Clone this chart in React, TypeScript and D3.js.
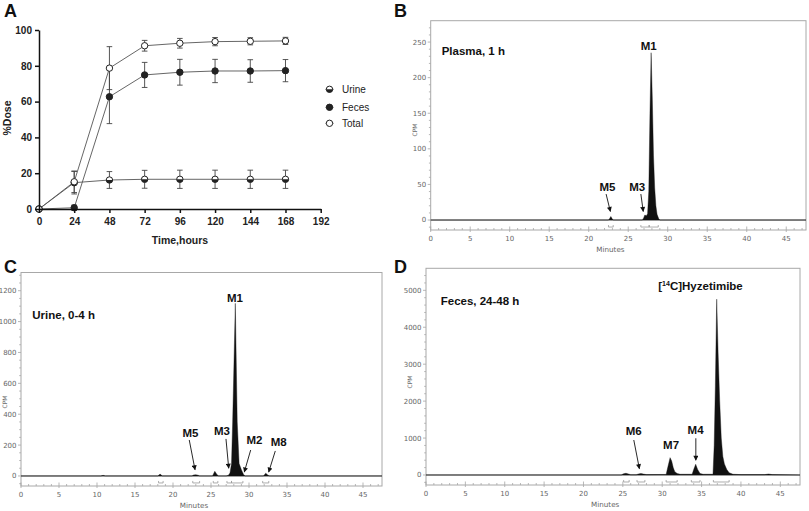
import React, { useEffect, useRef } from 'react';
import * as d3 from 'd3';

// ---------- panel A: cumulative excretion (% dose) ----------
const hours = [0, 24, 48, 72, 96, 120, 144, 168];
const urine = [0, 14.7, 16.2, 16.6, 16.6, 16.6, 16.6, 16.6];
const urineErr = [0, 6.3, 4.7, 5, 5.1, 5.1, 5.1, 5.1];
const feces = [0, 0.7, 62.7, 74.9, 76.4, 77.1, 77.1, 77.3];
const fecesErr = [0, 1.5, 15, 7, 7.2, 6.5, 6.3, 6.2];
const total = [0, 15.2, 78.7, 91.2, 92.6, 93.5, 93.7, 93.9];
const totalErr = [0, 6, 12, 3, 2.7, 2.3, 2, 2];
const hourTicks = [0, 24, 48, 72, 96, 120, 144, 168, 192];
const doseTicks = [0, 20, 40, 60, 80, 100];
const legendNames = ['Urine', 'Feces', 'Total'];

// ---------- panels B-D: radiochromatograms [minutes, CPM] ----------
const minuteTicks = [0, 5, 10, 15, 20, 25, 30, 35, 40, 45];

const plasmaTrace: [number, number][] = [
  [0, 0], [22.5, 0], [22.65, 2], [22.8, 5], [22.95, 2], [23.1, 0],
  [26.8, 0], [26.95, 3], [27.1, 7], [27.3, 6], [27.45, 9], [27.6, 40],
  [27.75, 150], [27.9, 235], [28.05, 170], [28.2, 90], [28.35, 45],
  [28.5, 20], [28.65, 8], [28.85, 2], [29.0, 0], [47.5, 0],
];
const plasmaTicks = [0, 50, 100, 150, 200, 250];
const plasmaBrackets: [number, number][] = [[22.5, 23.1], [26.6, 27.65], [27.65, 28.8]];

const urineTrace: [number, number][] = [
  [0, 0], [10.5, 0], [10.8, 4], [11.1, 0],
  [18.0, 0], [18.3, 12], [18.6, 0],
  [22.5, 0], [22.7, 6], [23.0, 8], [23.3, 5], [23.5, 0],
  [25.2, 0], [25.5, 30], [25.8, 8], [26.0, 0],
  [27.0, 0], [27.3, 5], [27.5, 20], [27.7, 80], [27.85, 350], [28.2, 1118],
  [28.45, 350], [28.7, 80], [29.0, 40], [29.3, 8], [29.5, 0],
  [31.9, 0], [32.2, 18], [32.5, 5], [32.7, 0], [47.5, 0],
];
const urineTicks = [0, 200, 400, 600, 800, 1000, 1200];
const urineBrackets: [number, number][] = [
  [18.1, 18.7], [22.6, 23.5], [25.3, 25.9], [27.1, 27.7], [27.7, 29.2], [31.8, 32.6],
];

const fecesTrace: [number, number][] = [
  [0, 0], [24.8, 0], [25.1, 35], [25.4, 45], [25.7, 30], [26.0, 5],
  [26.7, 5], [27.0, 30], [27.3, 40], [27.6, 25], [28.0, 10],
  [30.5, 15], [30.7, 200], [31.0, 470], [31.2, 380], [31.4, 200], [31.6, 90],
  [31.9, 40], [32.3, 20], [33.8, 20], [34.0, 150], [34.25, 290], [34.5, 150],
  [34.8, 40], [35.2, 20], [36.45, 20], [36.6, 800], [36.75, 2400], [36.92, 4760],
  [37.1, 3300], [37.3, 2000], [37.5, 1000], [37.7, 500], [37.9, 300],
  [38.2, 150], [38.5, 60], [39.0, 20], [40, 10], [43.0, 10], [43.5, 25],
  [44, 10], [47.5, 0],
];
const fecesTicks = [0, 1000, 2000, 3000, 4000, 5000];
const fecesBrackets: [number, number][] = [
  [25.1, 25.8], [26.8, 27.8], [30.5, 31.9], [33.7, 34.8], [36.5, 38.5],
];

type Note = {
  text: string;
  at: [number, number];
  anchor?: string;
  from?: [number, number];
  to?: [number, number];
};

const plasmaNotes: Note[] = [
  { text: 'Plasma, 1 h', at: [1.39, 232], anchor: 'start' },
  { text: 'M1', at: [27.6, 239] },
  { text: 'M5', at: [22.36, 41], from: [22.2, 36.5], to: [22.74, 12] },
  { text: 'M3', at: [26.14, 41], from: [26.6, 36.5], to: [26.9, 12] },
];
const urineNotes: Note[] = [
  { text: 'Urine, 0-4 h', at: [1.49, 1015], anchor: 'start' },
  { text: 'M1', at: [28.16, 1129] },
  { text: 'M5', at: [22.3, 250], from: [22.14, 233], to: [22.9, 40] },
  { text: 'M3', at: [26.45, 265], from: [26.97, 240], to: [27.33, 50] },
  { text: 'M2', at: [30.72, 205], from: [30.22, 168], to: [29.38, 25] },
  { text: 'M8', at: [33.9, 196], from: [33.46, 162], to: [32.59, 25] },
];
const fecesNotes: Note[] = [
  { text: 'Feces, 24-48 h', at: [1.87, 4602], anchor: 'start' },
  { text: 'M6', at: [26.39, 1083], from: [26.39, 947], to: [27.1, 170] },
  { text: 'M7', at: [31.13, 704] },
  { text: 'M4', at: [34.24, 1110], from: [34.27, 994], to: [34.27, 400] },
];

const SANS = 'Liberation Sans, Arial, Helvetica, sans-serif';
const SMALL = 'DejaVu Sans, Verdana, sans-serif';

function halfMarker(g: any, cx: number, cy: number, r: number) {
  g.append('circle').attr('cx', cx).attr('cy', cy).attr('r', r)
    .attr('fill', '#fff').attr('stroke', '#222').attr('stroke-width', 1);
  g.append('path')
    .attr('d', `M${cx - r},${cy} A${r},${r} 0 0 0 ${cx + r},${cy} Z`)
    .attr('fill', '#222');
}

function marker(g: any, kind: number, cx: number, cy: number) {
  const r = 3.2;
  if (kind === 0) halfMarker(g, cx, cy, r);
  else g.append('circle').attr('cx', cx).attr('cy', cy).attr('r', r)
    .attr('fill', kind === 1 ? '#222' : '#fff').attr('stroke', '#222').attr('stroke-width', 1);
}

function drawExcretion(svg: any) {
  const x = d3.scaleLinear().domain([0, 192]).range([39, 320.7]);
  const y = d3.scaleLinear().domain([0, 100]).range([209, 30]);
  const g = svg.append('g');

  const series = [
    { v: urine, e: urineErr },
    { v: feces, e: fecesErr },
    { v: total, e: totalErr },
  ];
  const line = d3.line<number>().x((_, i) => x(hours[i])).y((d) => y(d));

  series.forEach((s) => {
    g.append('path').datum(s.v).attr('d', line).attr('fill', 'none')
      .attr('stroke', '#555').attr('stroke-width', 0.9);
  });
  series.forEach((s) => {
    s.v.forEach((v, i) => {
      if (!s.e[i]) return;
      const cx = x(hours[i]);
      const lo = y(v - s.e[i]);
      const hi = y(v + s.e[i]);
      const eb = g.append('g').attr('stroke', '#444').attr('stroke-width', 0.9);
      eb.append('line').attr('x1', cx).attr('x2', cx).attr('y1', lo).attr('y2', hi);
      eb.append('line').attr('x1', cx - 2.8).attr('x2', cx + 2.8).attr('y1', lo).attr('y2', lo);
      eb.append('line').attr('x1', cx - 2.8).attr('x2', cx + 2.8).attr('y1', hi).attr('y2', hi);
    });
  });
  series.forEach((s, k) => {
    s.v.forEach((v, i) => marker(g, k, x(hours[i]), y(v)));
  });

  const xAxis = d3.axisBottom(x).tickValues(hourTicks).tickSize(4).tickSizeOuter(0).tickPadding(5);
  const yAxis = d3.axisLeft(y).tickValues(doseTicks).tickSize(4).tickSizeOuter(0).tickPadding(3);
  const ax = g.append('g').attr('transform', 'translate(0,209)').call(xAxis);
  const ay = g.append('g').attr('transform', 'translate(39,0)').call(yAxis);
  [ax, ay].forEach((a) => {
    a.selectAll('path,line').attr('stroke', '#111').attr('stroke-width', 1.5);
    a.selectAll('text').attr('font-family', SANS).attr('font-weight', 'bold')
      .attr('font-size', 10).attr('fill', '#222');
  });

  g.append('text').attr('x', 180).attr('y', 244).attr('text-anchor', 'middle')
    .attr('font-family', SANS).attr('font-weight', 'bold').attr('font-size', 10.5)
    .attr('fill', '#222').text('Time,hours');
  g.append('text').attr('transform', 'translate(10.5,118) rotate(-90)').attr('text-anchor', 'middle')
    .attr('font-family', SANS).attr('font-weight', 'bold').attr('font-size', 10.5)
    .attr('fill', '#222').text('%Dose');

  // legend
  const rowY = [89.3, 107.3, 123.3];
  legendNames.forEach((name, k) => {
    g.append('line').attr('x1', 325.5).attr('x2', 333.5).attr('y1', rowY[k]).attr('y2', rowY[k])
      .attr('stroke', '#555').attr('stroke-width', 0.9);
    marker(g, k, 329.5, rowY[k]);
    g.append('text').attr('x', 342).attr('y', rowY[k]).attr('dy', '0.36em')
      .attr('font-family', SANS).attr('font-size', 10).attr('fill', '#222').text(name);
  });
}

type Panel = {
  left: number; right: number; top: number; bottom: number;
  yMin: number; yMax: number; yMinor: number; cpmY: number;
};

function drawChrom(svg: any, p: Panel, trace: [number, number][], ticks: number[],
  brackets: [number, number][], notes: Note[]) {
  const x = d3.scaleLinear().domain([0, 47.5]).range([p.left, p.right]);
  const y = d3.scaleLinear().domain([p.yMin, p.yMax]).range([p.bottom, p.top]);
  const g = svg.append('g');
  const base = y(0);

  // minor / major ticks
  d3.range(0, 48, 1).forEach((m) => {
    const major = m % 5 === 0;
    g.append('line').attr('x1', x(m)).attr('x2', x(m))
      .attr('y1', p.bottom + (major ? 2 : 0)).attr('y2', p.bottom - (major ? 3.5 : 2))
      .attr('stroke', '#999').attr('stroke-width', 0.7);
  });
  d3.range(Math.ceil(p.yMin / p.yMinor) * p.yMinor, p.yMax, p.yMinor).forEach((v) => {
    const major = ticks.includes(v);
    g.append('line').attr('x1', p.left - (major ? 3 : 1.8)).attr('x2', p.left)
      .attr('y1', y(v)).attr('y2', y(v)).attr('stroke', '#999').attr('stroke-width', 0.7);
  });

  g.append('rect').attr('x', p.left).attr('y', p.top).attr('width', p.right - p.left)
    .attr('height', p.bottom - p.top).attr('fill', 'none').attr('stroke', '#a8a8a8').attr('stroke-width', 1);
  g.append('line').attr('x1', p.left).attr('x2', p.right).attr('y1', base).attr('y2', base)
    .attr('stroke', '#7a7a7a').attr('stroke-width', 1.1);

  const area = d3.area<[number, number]>().x((d) => x(d[0])).y0(base).y1((d) => y(d[1]));
  g.append('path').datum(trace).attr('d', area).attr('fill', '#111')
    .attr('stroke', '#111').attr('stroke-width', 0.4);

  // integration brackets
  brackets.forEach(([a, b]) => {
    const by = base + 7;
    g.append('path').attr('d', `M${x(a)},${by - 2}V${by}H${x(b)}V${by - 2}`)
      .attr('fill', 'none').attr('stroke', '#999').attr('stroke-width', 0.8);
  });

  minuteTicks.forEach((m) => {
    g.append('text').attr('x', x(m)).attr('y', p.bottom + 11).attr('text-anchor', 'middle')
      .attr('font-family', SMALL).attr('font-size', 7).attr('fill', '#666').text(m);
  });
  ticks.forEach((v) => {
    g.append('text').attr('x', p.left - 4.5).attr('y', y(v)).attr('dy', '0.35em')
      .attr('text-anchor', 'end').attr('font-family', SMALL).attr('font-size', 7)
      .attr('fill', '#666').text(v);
  });
  g.append('text').attr('x', (x(0) + x(45)) / 2 + 2).attr('y', p.bottom + 22).attr('text-anchor', 'middle')
    .attr('font-family', SMALL).attr('font-size', 7.2).attr('fill', '#666').text('Minutes');
  g.append('text').attr('transform', `translate(${p.left - 14},${p.cpmY}) rotate(-90)`)
    .attr('text-anchor', 'middle').attr('font-family', SMALL).attr('font-size', 6)
    .attr('fill', '#666').text('CPM');

  notes.forEach((n) => {
    g.append('text').attr('x', x(n.at[0])).attr('y', y(n.at[1]))
      .attr('text-anchor', n.anchor || 'middle').attr('font-family', SANS)
      .attr('font-weight', 'bold').attr('font-size', 11.5).attr('fill', '#111').text(n.text);
    if (n.from && n.to) {
      g.append('line').attr('x1', x(n.from[0])).attr('y1', y(n.from[1]))
        .attr('x2', x(n.to[0])).attr('y2', y(n.to[1]))
        .attr('stroke', '#111').attr('stroke-width', 0.9).attr('marker-end', 'url(#arrow)');
    }
  });
  return { x, y, g };
}

export default function App() {
  const ref = useRef<SVGSVGElement>(null);

  useEffect(() => {
    const svg = d3.select(ref.current);
    svg.selectAll('*').remove();
    svg.append('rect').attr('width', 809).attr('height', 511).attr('fill', '#fff');
    svg.append('defs').append('marker').attr('id', 'arrow').attr('viewBox', '0 0 10 10')
      .attr('refX', 9).attr('refY', 5).attr('markerWidth', 6).attr('markerHeight', 5)
      .attr('markerUnits', 'userSpaceOnUse').attr('orient', 'auto')
      .append('path').attr('d', 'M0,0L10,5L0,10Z').attr('fill', '#111');

    drawExcretion(svg);

    drawChrom(svg, { left: 430.7, right: 806, top: 20.7, bottom: 230, yMin: -14, yMax: 280, yMinor: 10, cpmY: 130 },
      plasmaTrace, plasmaTicks, plasmaBrackets, plasmaNotes);
    drawChrom(svg, { left: 21, right: 382, top: 272.5, bottom: 486, yMin: -65, yMax: 1318, yMinor: 50, cpmY: 402 },
      urineTrace, urineTicks, urineBrackets, urineNotes);
    const d = drawChrom(svg, { left: 426, right: 800, top: 268.3, bottom: 485, yMin: -271, yMax: 5596, yMinor: 200, cpmY: 382 },
      fecesTrace, fecesTicks, fecesBrackets, fecesNotes);

    // [14C]Hyzetimibe label with superscript
    const t = d.g.append('text').attr('x', d.x(29.5)).attr('y', d.y(5008))
      .attr('font-family', SANS).attr('font-weight', 'bold').attr('font-size', 11.5).attr('fill', '#111');
    t.append('tspan').text('[');
    t.append('tspan').attr('font-size', 7).attr('dy', -4).text('14');
    t.append('tspan').attr('dy', 4).text('C]Hyzetimibe');

    // panel letters
    [['A', 4, 17], ['B', 394, 17], ['C', 4, 273], ['D', 394, 273]].forEach(([s, px, py]) => {
      svg.append('text').attr('x', px).attr('y', py).attr('font-family', SANS)
        .attr('font-weight', 'bold').attr('font-size', 18).attr('fill', '#111').text(s as string);
    });
  }, []);

  return (
    <svg ref={ref} width={809} height={511}
      style={{ position: 'absolute', left: 0, top: 0, display: 'block' }} />
  );
}
